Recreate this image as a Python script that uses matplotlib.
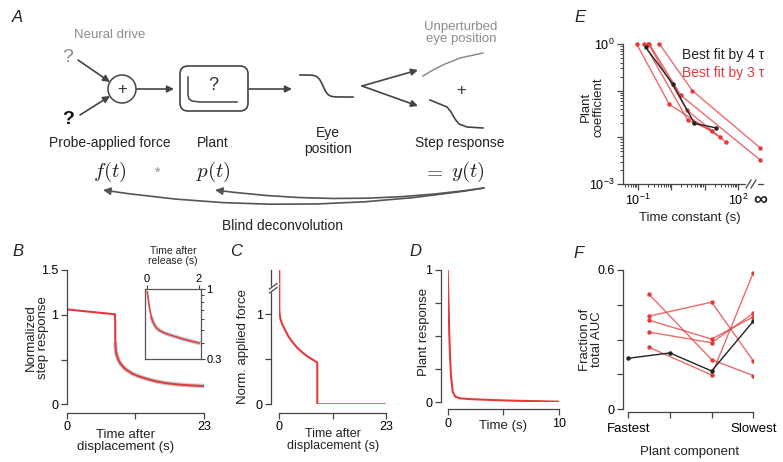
import numpy as np
import matplotlib
matplotlib.use('Agg')
import matplotlib.pyplot as plt
from matplotlib.patches import Circle, FancyBboxPatch
from matplotlib.ticker import FixedLocator, NullFormatter

W, H = 783, 462
RED = '#e23b3b'
DARK = '#333333'
AXC = '#444444'
GRAY = '#8c8c8c'
DOTS = '#b8c6ca'

plt.rcParams['font.family'] = ['Liberation Sans', 'DejaVu Sans']
plt.rcParams['mathtext.fontset'] = 'custom'
plt.rcParams['mathtext.rm'] = 'Liberation Sans'
plt.rcParams['mathtext.it'] = 'Liberation Sans:italic'
plt.rcParams['font.size'] = 8.5
plt.rcParams['text.color'] = '#222222'

# ---- data ----
# B: normalized step response (fit), time after displacement (s)
b_time = [0, 8.1, 8.15, 8.25, 8.4, 8.7, 9.0, 9.5, 10.0, 11.0, 12.0, 13.5, 15.0, 16.5, 18.5, 20.5, 23]
b_fit = [1.06, 1.005, 0.68, 0.585, 0.545, 0.49, 0.455, 0.415, 0.385, 0.342, 0.314, 0.282,
         0.256, 0.238, 0.222, 0.212, 0.204]
# B inset: time after release (s), log axis
inset_time = [0.02, 0.06, 0.10, 0.15, 0.19, 0.25, 0.32, 0.40, 0.51, 0.70, 0.90, 1.15, 1.41, 1.70, 2.0]
inset_fit = [0.96, 0.84, 0.741, 0.66, 0.607, 0.565, 0.532, 0.51, 0.49, 0.47, 0.455, 0.44,
             0.424, 0.41, 0.397]
# C: normalized applied force
c_time = [0, 0, 0.1, 0.3, 0.7, 1.23, 2.0, 3.02, 4.0, 5.17, 6.2, 7.33, 8.19, 8.19, 23]
c_force = [1.6, 1.05, 0.99, 0.937, 0.88, 0.826, 0.75, 0.678, 0.62, 0.567, 0.527, 0.492,
           0.462, 0, 0]
# D: plant response
d_time = [0, 0.09, 0.14, 0.21, 0.3, 0.45, 0.69, 1.1, 2.0, 4.1, 6.0, 8.3, 10]
d_resp = [1.0, 0.698, 0.521, 0.345, 0.194, 0.08, 0.042, 0.03, 0.024, 0.017, 0.012, 0.008, 0.005]
# E: plant coefficients vs time constants
e_black_tau = [0.17, 1.1, 4.9, 21.4]
e_black_coef = [0.85, 0.14, 0.020, 0.016]
e_red_tau = [[0.44, 4.27, np.inf],
             [0.22, 1.95, np.inf],
             [0.091, 0.87, 29.5],
             [0.204, 2.95, 43.6],
             [0.155, 3.16, 16.6]]
e_red_coef = [[1.0, 0.10, 0.006],
              [1.0, 0.079, 0.0033],
              [1.0, 0.051, 0.010],
              [1.0, 0.038, 0.0079],
              [1.0, 0.023, 0.014]]
# F: fraction of total AUC per plant component
f_black_x = [1, 2, 3, 4]
f_black = [0.219, 0.242, 0.164, 0.379]
f_red_x = [1.5, 3, 4]
f_red = [[0.495, 0.213, 0.144],
         [0.401, 0.461, 0.208],
         [0.383, 0.302, 0.398],
         [0.332, 0.286, 0.413],
         [0.266, 0.147, 0.588]]
f_labels = ['Fastest', '', '', 'Slowest']

INF_POS = 10 ** 2.66
LAB = 9.5

fig = plt.figure(figsize=(W / 100, H / 100), dpi=100)


def px_axes(l, t, r, b, **kw):
    return fig.add_axes([l / W, 1 - b / H, (r - l) / W, (b - t) / H], **kw)


def style(ax):
    for s in ['top', 'right']:
        ax.spines[s].set_visible(False)
    for s in ['left', 'bottom']:
        ax.spines[s].set_color(AXC)
        ax.spines[s].set_linewidth(0.9)
    ax.tick_params(direction='out', length=4, width=0.9, color=AXC, labelsize=9, pad=2)
    ax.tick_params(which='minor', length=2, width=0.7, color=AXC)
    ax.patch.set_alpha(0)


# ---- panel A: block diagram drawn in pixel coordinates ----
dax = fig.add_axes([0, 0, 1, 1])
dax.set_xlim(0, W)
dax.set_ylim(H, 0)
dax.axis('off')

arrow = dict(arrowstyle='-|>', color=AXC, lw=1.2, mutation_scale=10, shrinkA=0, shrinkB=0)
dax.text(110, 35, 'Neural drive', color=GRAY, ha='center', va='center', fontsize=9.5)
dax.text(68, 58, '?', color=GRAY, ha='center', va='center', fontsize=14)
dax.text(68, 120, '?', color='#111111', ha='center', va='center', fontsize=14, fontweight='bold')
dax.annotate('', xy=(110, 82), xytext=(78, 60), arrowprops=arrow)
dax.annotate('', xy=(110, 96), xytext=(80, 115), arrowprops=arrow)
dax.add_patch(Circle((122, 89), 14, fill=False, ec=AXC, lw=1.1))
dax.text(122, 89.5, '+', ha='center', va='center', fontsize=12, color=DARK)
dax.annotate('', xy=(174, 89), xytext=(137, 89), arrowprops=arrow)
dax.add_patch(FancyBboxPatch((180, 66), 68, 45, boxstyle='round,pad=0,rounding_size=8',
                             fill=False, ec=AXC, lw=1.2))
dax.text(213, 86, '?', ha='center', va='center', fontsize=13, color=DARK)
dax.plot([188, 188, 189, 192, 200, 237], [77, 95, 99, 101, 102, 102], color=AXC, lw=1.1)
dax.annotate('', xy=(292, 89), xytext=(249, 89), arrowprops=arrow)
ex = np.linspace(300, 353, 60)
dax.plot(ex, 86 + 11 * np.tanh((ex - 323) / 5), color=AXC, lw=1.2)
dax.text(328, 141, 'Eye\nposition', ha='center', va='center', fontsize=10, linespacing=1.1)
dax.annotate('', xy=(418, 70), xytext=(362, 86), arrowprops=arrow)
dax.annotate('', xy=(418, 106), xytext=(362, 86), arrowprops=arrow)
dax.plot([423, 433, 445, 460, 483], [76, 70, 64, 58, 53], color=GRAY, lw=1.1)
dax.text(461, 33, 'Unperturbed\neye position', color=GRAY, ha='center', va='center',
         fontsize=9.5, linespacing=1.1)
dax.text(461, 91, '+', ha='center', va='center', fontsize=12, color=DARK)
dax.plot([430, 447, 451, 455, 459, 467, 483], [100, 107, 112, 119, 124, 127, 128], color=AXC, lw=1.2)
dax.text(110, 143, 'Probe-applied force', ha='center', va='center', fontsize=10)
dax.text(213, 143, 'Plant', ha='center', va='center', fontsize=10)
dax.text(460, 143, 'Step response', ha='center', va='center', fontsize=10)
dax.text(110, 172, r'$f(t)$', ha='center', va='center', fontsize=15, math_fontfamily='cm')
dax.text(158, 173, '*', ha='center', va='center', fontsize=10, color=GRAY)
dax.text(213, 172, r'$p(t)$', ha='center', va='center', fontsize=15, math_fontfamily='cm')
dax.text(433, 172, r'$=$', ha='center', va='center', fontsize=15, math_fontfamily='cm', color='#555555')
dax.text(468, 172, r'$y(t)$', ha='center', va='center', fontsize=15, math_fontfamily='cm')
curved = dict(arrowstyle='-|>', color='#555555', lw=1.2, mutation_scale=11,
              shrinkA=0, shrinkB=0)
dax.annotate('', xy=(103, 190), xytext=(484, 188),
             arrowprops=dict(curved, connectionstyle='arc3,rad=-0.08'))
dax.annotate('', xy=(215, 190), xytext=(484, 188),
             arrowprops=dict(curved, connectionstyle='arc3,rad=-0.07'))
dax.text(283, 226, 'Blind deconvolution', ha='center', va='center', fontsize=10)

# ---- panel B ----
axB = px_axes(66.7, 270, 204, 404.3)
style(axB)
axB.plot(b_time[2:], b_fit[2:], color=DOTS, lw=3.2, alpha=0.8, solid_capstyle='round')
axB.plot(b_time, b_fit, color=RED, lw=1.5)
axB.set_xlim(0, 23)
axB.set_ylim(0, 1.5)
axB.spines['bottom'].set_position(('outward', 6))
axB.set_yticks([0, 0.5, 1, 1.5])
axB.set_yticklabels(['0', '', '1', '1.5'])
axB.set_xticks([0, 11.5, 23])
axB.set_xticklabels(['0', '', '23'])
axB.text(-0.215, 0.5, 'Normalized\nstep response', transform=axB.transAxes, rotation=90,
         ha='center', va='center', fontsize=LAB, linespacing=1.0)
axB.text(0.43, -0.27, 'Time after\ndisplacement (s)', transform=axB.transAxes,
         ha='center', va='center', fontsize=LAB, linespacing=1.0)

# inset of B
axI = px_axes(145, 289.3, 201, 359.3)
axI.set_yscale('log')
axI.plot(inset_time[4:], inset_fit[4:], color=DOTS, lw=3.0, alpha=0.8)
axI.plot(inset_time, inset_fit, color=RED, lw=1.2)
axI.set_xlim(-0.065, 2.08)
axI.set_ylim(0.3, 1)
for s in axI.spines.values():
    s.set_color('#555555')
    s.set_linewidth(0.9)
axI.patch.set_alpha(0)
axI.xaxis.tick_top()
axI.yaxis.tick_right()
axI.set_xticks([0, 2])
axI.set_xticklabels(['0', '2'])
axI.yaxis.set_major_locator(FixedLocator([0.3, 1]))
axI.yaxis.set_major_formatter(plt.FixedFormatter(['0.3', '1']))
axI.yaxis.set_minor_locator(FixedLocator([0.4, 0.5, 0.6, 0.7, 0.8, 0.9]))
axI.yaxis.set_minor_formatter(NullFormatter())
axI.tick_params(direction='out', length=3, width=0.8, color=AXC, labelsize=8, pad=1)
axI.tick_params(which='minor', direction='out', length=2, width=0.7, color=AXC)
axI.text(0.5, 1.48, 'Time after\nrelease (s)', transform=axI.transAxes, ha='center',
         va='center', fontsize=7.5, linespacing=1.0)

# ---- panel C ----
axC = px_axes(279.3, 270, 386, 404.3)
style(axC)
axC.plot(c_time, c_force, color=RED, lw=1.5)
axC.set_xlim(0, 23)
axC.set_ylim(0, 1.49)
axC.spines['bottom'].set_position(('outward', 6))
axC.spines['left'].set_position(('outward', 6))
axC.set_yticks([0, 0.5, 1])
axC.set_yticklabels(['0', '', '1'])
axC.set_xticks([0, 11.5, 23])
axC.set_xticklabels(['0', '', '23'])
axC.text(-0.34, 0.43, 'Norm. applied force', transform=axC.transAxes, rotation=90,
         ha='center', va='center', fontsize=LAB)
axC.text(0.5, -0.265, 'Time after\ndisplacement (s)', transform=axC.transAxes,
         ha='center', va='center', fontsize=9, linespacing=1.0)

# ---- panel D ----
axD = px_axes(447.7, 270, 559, 402.3)
style(axD)
axD.plot(d_time, d_resp, color=RED, lw=1.5)
axD.set_xlim(0, 10)
axD.set_ylim(0, 1)
axD.spines['bottom'].set_position(('outward', 5))
axD.spines['left'].set_position(('outward', 5))
axD.set_yticks([0, 0.25, 0.5, 0.75, 1])
axD.set_yticklabels(['0', '', '', '', '1'])
axD.set_xticks([0, 5, 10])
axD.set_xticklabels(['0', '', '10'])
axD.text(-0.21, 0.53, 'Plant response', transform=axD.transAxes, rotation=90,
         ha='center', va='center', fontsize=LAB)
axD.text(0.5, -0.18, 'Time (s)', transform=axD.transAxes, ha='center', va='center', fontsize=LAB)

# ---- panel E ----
axE = px_axes(623, 44, 763, 184)
style(axE)
axE.set_xscale('log')
axE.set_yscale('log')
for taus, coefs in zip(e_red_tau, e_red_coef):
    xs = [INF_POS if np.isinf(t) else t for t in taus]
    axE.plot(xs, coefs, color=RED, lw=1.0, alpha=0.75, clip_on=False)
    axE.plot(xs, coefs, 'o', color=RED, ms=3.2, mec='none', clip_on=False)
axE.plot(e_black_tau, e_black_coef, color='#222222', lw=1.0, clip_on=False)
axE.plot(e_black_tau, e_black_coef, 'o', color='#222222', ms=3.2, mec='none', clip_on=False)
axE.set_xlim(10 ** -1.45, 10 ** 2.75)
axE.set_ylim(1e-3, 1)
axE.xaxis.set_major_locator(FixedLocator([0.1, 1, 10, 100]))
axE.xaxis.set_major_formatter(plt.FixedFormatter(['10$^{-1}$', '', '', '10$^{2}$']))
minor_x = [m * 10.0 ** e for e in range(-2, 2) for m in range(2, 10)]
minor_x = [v for v in minor_x if 10 ** -1.45 < v < 100]
axE.xaxis.set_minor_locator(FixedLocator(minor_x))
axE.xaxis.set_minor_formatter(NullFormatter())
axE.yaxis.set_major_locator(FixedLocator([1e-3, 1e-2, 1e-1, 1]))
axE.yaxis.set_major_formatter(plt.FixedFormatter(['10$^{-3}$', '', '', '10$^{0}$']))
axE.yaxis.set_minor_locator(FixedLocator([m * 10.0 ** e for e in range(-3, 0) for m in range(2, 10)]))
axE.yaxis.set_minor_formatter(NullFormatter())
axE.text(INF_POS, -0.12, '\u221e', transform=axE.get_xaxis_transform(), ha='center',
         va='center', fontsize=14, fontweight='bold')
axE.text(-0.22, 0.55, 'Plant\ncoefficient', transform=axE.transAxes, rotation=90,
         ha='center', va='center', fontsize=LAB, linespacing=1.0)
axE.text(0.48, -0.24, 'Time constant (s)', transform=axE.transAxes, ha='center',
         va='center', fontsize=LAB)
axE.text(1.01, 0.92, 'Best fit by 4 \u03c4', transform=axE.transAxes, ha='right',
         va='center', fontsize=10, color='#222222')
axE.text(1.01, 0.79, 'Best fit by 3 \u03c4', transform=axE.transAxes, ha='right',
         va='center', fontsize=10, color=RED)

# ---- panel F ----
axF = px_axes(623, 270, 753.3, 409)
style(axF)
for vals in f_red:
    axF.plot(f_red_x, vals, color=RED, lw=1.0, alpha=0.75)
    axF.plot(f_red_x, vals, 'o', color=RED, ms=3.2, mec='none')
axF.plot(f_black_x, f_black, color='#222222', lw=1.0)
axF.plot(f_black_x, f_black, 'o', color='#222222', ms=3.2, mec='none')
axF.set_xlim(0.873, 4)
axF.set_ylim(0, 0.6)
axF.spines['bottom'].set_position(('outward', 2))
axF.spines['bottom'].set_bounds(1, 4)
axF.set_yticks([0, 0.15, 0.3, 0.45, 0.6])
axF.set_yticklabels(['0', '', '', '', '0.6'])
axF.set_xticks([1, 2, 3, 4])
axF.set_xticklabels(f_labels, fontsize=LAB)
axF.tick_params(axis='x', pad=4)
axF.text(-0.245, 0.5, 'Fraction of\ntotal AUC', transform=axF.transAxes, rotation=90,
         ha='center', va='center', fontsize=LAB, linespacing=1.0)
axF.text(0.51, -0.31, 'Plant component', transform=axF.transAxes, ha='center',
         va='center', fontsize=LAB)

# ---- overlay: axis breaks and panel letters ----
oax = fig.add_axes([0, 0, 1, 1])
oax.set_xlim(0, W)
oax.set_ylim(H, 0)
oax.axis('off')
oax.plot([270, 277], [291, 284], color='white', lw=3)
oax.plot([269.5, 277], [289, 283.5], color=AXC, lw=0.9)
oax.plot([269.5, 277], [293, 287.5], color=AXC, lw=0.9)
oax.plot([748, 756], [184, 184], color='white', lw=3)
oax.plot([746, 751], [188, 180], color=AXC, lw=0.9)
oax.plot([751, 756], [188, 180], color=AXC, lw=0.9)
for letter, (lx, ly) in {'A': (17, 18), 'B': (18, 252), 'C': (236, 252),
                         'D': (415, 252), 'E': (580, 17), 'F': (579, 253)}.items():
    oax.text(lx, ly, letter, ha='center', va='center', fontsize=12, style='italic')

fig.savefig('out.png', dpi=100)
